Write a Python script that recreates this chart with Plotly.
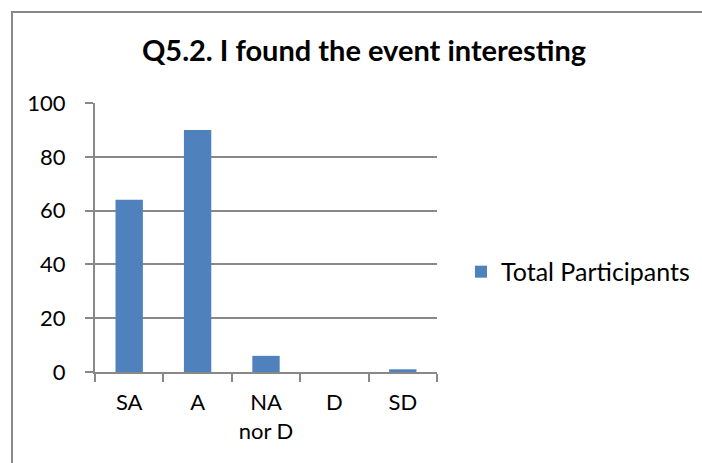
import plotly.graph_objects as go

categories = ["SA", "A", "NA<br>nor D", "D", "SD"]
values = [64, 90, 6, 0, 1]
series_name = "Total Participants"
title_text = "Q5.2. I found the event interesting"
y_ticks = [0, 20, 40, 60, 80, 100]

FONT = "Lato, Open Sans, sans-serif"
GRID = "#888888"

fig = go.Figure()
fig.add_trace(go.Bar(
    x=categories, y=values, name=series_name,
    marker=dict(color="#4F81BD", line=dict(color="#4F81BD", width=0)),
    showlegend=True,
))

fig.update_layout(
    width=702, height=463,
    margin=dict(l=95, r=265, t=103, b=91, autoexpand=False),
    paper_bgcolor="white", plot_bgcolor="white",
    bargap=0.6,
    font=dict(family=FONT, size=22, color="black"),
    title=dict(text="<b>" + title_text + "</b>", x=364/702, xanchor="center",
               y=1 - 51/463, yanchor="middle", xref="container", yref="container",
               font=dict(family=FONT, size=29, color="black")),
    showlegend=True,
    legend=dict(x=(461 - 95) / 342, y=0.372, xanchor="left", yanchor="middle",
                font=dict(family=FONT, size=25), itemwidth=30,
                bgcolor="rgba(0,0,0,0)"),
    xaxis=dict(type="category", showline=True, linecolor=GRID, linewidth=2,
               ticks="outside", tickson="boundaries", ticklen=8, tickcolor=GRID,
               tickwidth=2, showgrid=False, tickfont=dict(size=22),
               ticklabelstandoff=10),
    yaxis=dict(range=[0, 100], tickvals=y_ticks, showline=True, linecolor=GRID,
               linewidth=2, ticks="outside", ticklen=8, tickcolor=GRID, tickwidth=2,
               showgrid=True, gridcolor=GRID, gridwidth=2, zeroline=False,
               tickfont=dict(size=22), ticklabelstandoff=15),
)

# outer chart-area border (Excel style)
fig.add_shape(type="rect", xref="paper", yref="paper",
              x0=(12 - 95) / 342, x1=2.0, y0=-0.5, y1=(372 - 12) / 269,
              line=dict(color="#888888", width=2), layer="below")

fig.write_html("out.html", config={"displayModeBar": False},
               post_script="document.body.style.margin='0';document.body.style.padding='0';")
